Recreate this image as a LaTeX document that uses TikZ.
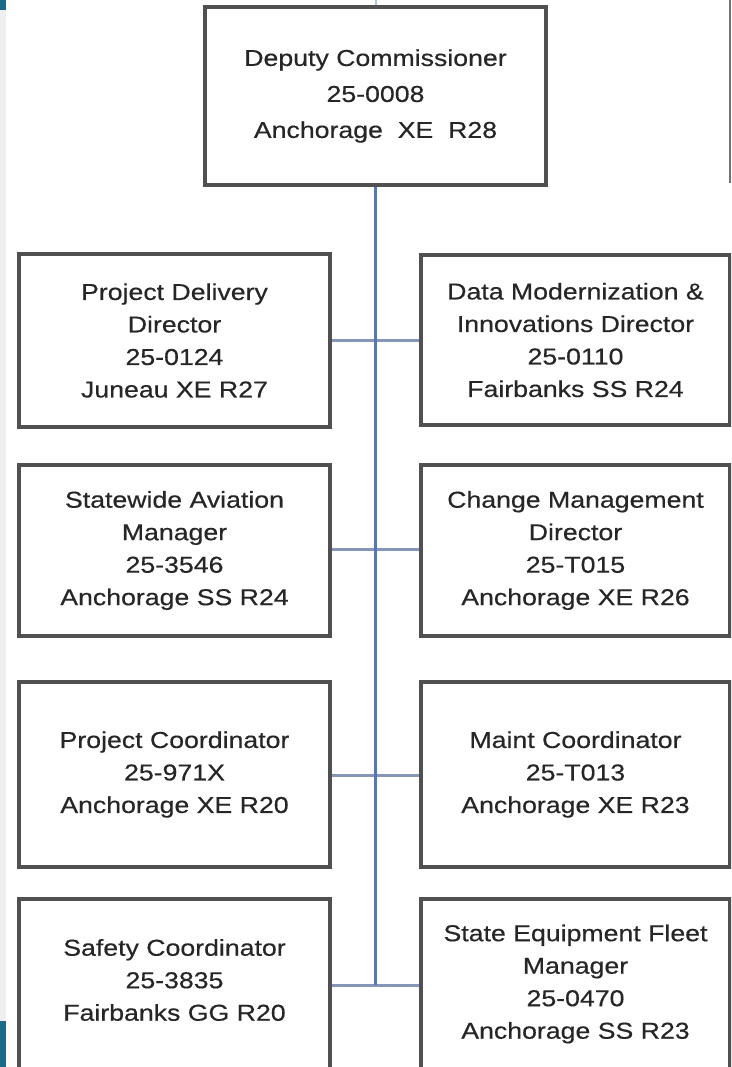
\documentclass[tikz,border=0pt]{standalone}
\usepackage{fontspec}
\setmainfont{Liberation Sans}[FakeStretch=1.16,FakeBold=0.4]
\definecolor{boxline}{HTML}{505050}
\definecolor{txt}{HTML}{262626}
\definecolor{vblue}{HTML}{5A76B2}
\definecolor{hblue}{HTML}{8696B8}
\definecolor{teal}{HTML}{1B6A8C}
\definecolor{strip}{HTML}{EFEFEF}
\tikzset{
  orgbox/.style={draw=boxline, line width=3.3pt, rectangle, align=center, text=txt,
    font=\fontsize{23}{32.5}\selectfont, inner sep=0pt},
  orgtext/.style={align=center, text=txt, font=\fontsize{23}{32.5}\selectfont, inner sep=0pt},
  vline/.style={draw=vblue, line width=3.2pt},
  hline/.style={draw=hblue, line width=3pt},
}
\begin{document}
\begin{tikzpicture}[x=1pt,y=-1pt]
\useasboundingbox (0,0) rectangle (731,1067);
\clip (0,0) rectangle (731,1067);
\fill[white] (0,0) rectangle (731,1067);
% left strip
\fill[strip] (0,0) rectangle (6,1067);
\fill[teal] (0,0) rectangle (6,10);
\fill[teal] (0,1021) rectangle (6,1067);
% fragments at edges
\draw[draw=teal!35, line width=2pt] (375.5,0) -- (375.5,7);
\draw[draw=boxline!80, line width=2pt] (730,0) -- (730,183);

% top box
\node[orgbox, minimum width=341pt, minimum height=178pt, font=\fontsize{23}{36}\selectfont] (dc) at (375.5,96)
  {Deputy Commissioner\\25-0008\\Anchorage\ \ XE\ \ R28};

% row 1
\node[orgbox, minimum width=311pt, minimum height=173pt] (l1) at (174.5,340.5)
  {Project Delivery\\Director\\25-0124\\Juneau XE R27};
\node[orgbox, minimum width=309pt, minimum height=170pt] (r1) at (575.5,340)
  {Data Modernization \&\\Innovations Director\\25-0110\\Fairbanks SS R24};
% row 2
\node[orgbox, minimum width=311pt, minimum height=171pt] (l2) at (174.5,550.5)
  {Statewide Aviation\\Manager\\25-3546\\Anchorage SS R24};
\node[orgbox, minimum width=309pt, minimum height=171pt] (r2) at (575.5,550.5)
  {Change Management\\Director\\25-T015\\Anchorage XE R26};
% row 3
\node[orgbox, minimum width=311pt, minimum height=185pt] (l3) at (174.5,774.5)
  {Project Coordinator\\25-971X\\Anchorage XE R20};
\node[orgbox, minimum width=309pt, minimum height=185pt] (r3) at (575.5,774.5)
  {Maint Coordinator\\25-T013\\Anchorage XE R23};
% row 4 (cut off at the bottom)
\node[orgbox, minimum width=311pt, minimum height=190pt] (l4) at (174.5,994) {};
\node[orgtext] (l4t) at (174.5,980) {Safety Coordinator\\25-3835\\Fairbanks GG R20};
\node[orgbox, minimum width=309pt, minimum height=190pt] (r4) at (575.5,994) {};
\node[orgtext] (r4t) at (575.5,984) {State Equipment Fleet\\Manager\\25-0470\\Anchorage SS R23};

% connectors
\coordinate (j1) at (375.5,340);
\coordinate (j2) at (375.5,549);
\coordinate (j3) at (375.5,775);
\coordinate (j4) at (375.5,985);
\draw[hline] (l1.east |- j1) -- (r1.west |- j1);
\draw[hline] (l2.east |- j2) -- (r2.west |- j2);
\draw[hline] (l3.east |- j3) -- (r3.west |- j3);
\draw[hline] (l4.east |- j4) -- (r4.west |- j4);
\draw[vline] (dc.south) -- (j4);
\end{tikzpicture}
\end{document}
